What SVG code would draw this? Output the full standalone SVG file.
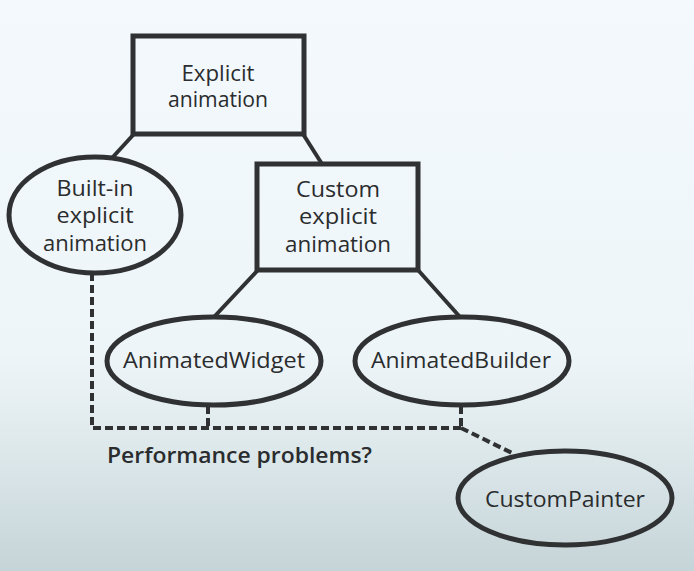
<svg xmlns="http://www.w3.org/2000/svg" width="694" height="571" viewBox="0 0 694 571">
  <defs>
    <linearGradient id="bg" x1="0" y1="0" x2="0" y2="1">
      <stop offset="0" stop-color="#f3f9fc"/>
      <stop offset="0.62" stop-color="#eef5f8"/>
      <stop offset="0.8" stop-color="#dce7ea"/>
      <stop offset="1" stop-color="#c5d4d8"/>
    </linearGradient>
    <style>
      .shape { fill: none; stroke: #2f3133; stroke-width: 5; }
      .link { fill: none; stroke: #2f3133; stroke-width: 4; }
      .dash { fill: none; stroke: #2f3133; stroke-width: 4; stroke-dasharray: 8 4; }
      .label { font-family: "Open Sans", "Noto Sans", sans-serif; font-size: 21px; fill: #2a2c2e; text-anchor: middle; }
      .note { font-family: "Open Sans", "Noto Sans", sans-serif; font-size: 21px; font-weight: 600; fill: #2a2c2e; }
    </style>
  </defs>

  <rect width="694" height="571" fill="url(#bg)"/>

  <!-- connectors -->
  <g id="connectors">
    <line class="link" x1="134" y1="134" x2="112" y2="158"/>
    <line class="link" x1="303" y1="134" x2="322" y2="164"/>
    <line class="link" x1="258" y1="270" x2="214" y2="317"/>
    <line class="link" x1="418" y1="270" x2="460" y2="317"/>
    <polyline class="dash" points="92,273 92,428 461,428"/>
    <line class="dash" x1="208" y1="406" x2="208" y2="428"/>
    <line class="dash" x1="461" y1="406" x2="461" y2="428"/>
    <line class="dash" x1="461" y1="428" x2="512" y2="453"/>
  </g>

  <g id="explicit-animation">
    <rect class="shape" x="133" y="36" width="171" height="98"/>
    <text class="label" x="218" y="81" textLength="73" lengthAdjust="spacingAndGlyphs">Explicit</text>
    <text class="label" x="218" y="107" textLength="100" lengthAdjust="spacingAndGlyphs">animation</text>
  </g>

  <g id="built-in-explicit-animation">
    <ellipse class="shape" cx="95" cy="215" rx="86" ry="58"/>
    <text class="label" x="95" y="196" textLength="77" lengthAdjust="spacingAndGlyphs">Built-in</text>
    <text class="label" x="95" y="223" textLength="77" lengthAdjust="spacingAndGlyphs">explicit</text>
    <text class="label" x="95" y="251" textLength="104" lengthAdjust="spacingAndGlyphs">animation</text>
  </g>

  <g id="custom-explicit-animation">
    <rect class="shape" x="257" y="164" width="161" height="106"/>
    <text class="label" x="338" y="197" textLength="84" lengthAdjust="spacingAndGlyphs">Custom</text>
    <text class="label" x="338" y="224" textLength="78" lengthAdjust="spacingAndGlyphs">explicit</text>
    <text class="label" x="338" y="252" textLength="106" lengthAdjust="spacingAndGlyphs">animation</text>
  </g>

  <g id="animated-widget">
    <ellipse class="shape" cx="214" cy="361" rx="107" ry="44"/>
    <text class="label" x="214" y="368" textLength="182" lengthAdjust="spacingAndGlyphs">AnimatedWidget</text>
  </g>

  <g id="animated-builder">
    <ellipse class="shape" cx="462" cy="361" rx="107" ry="44"/>
    <text class="label" x="461" y="368" textLength="180" lengthAdjust="spacingAndGlyphs">AnimatedBuilder</text>
  </g>

  <g id="custom-painter">
    <ellipse class="shape" cx="565" cy="498" rx="107" ry="47"/>
    <text class="label" x="565" y="507" textLength="160" lengthAdjust="spacingAndGlyphs">CustomPainter</text>
  </g>

  <text class="note" x="107" y="463" textLength="265" lengthAdjust="spacingAndGlyphs">Performance problems?</text>
</svg>
